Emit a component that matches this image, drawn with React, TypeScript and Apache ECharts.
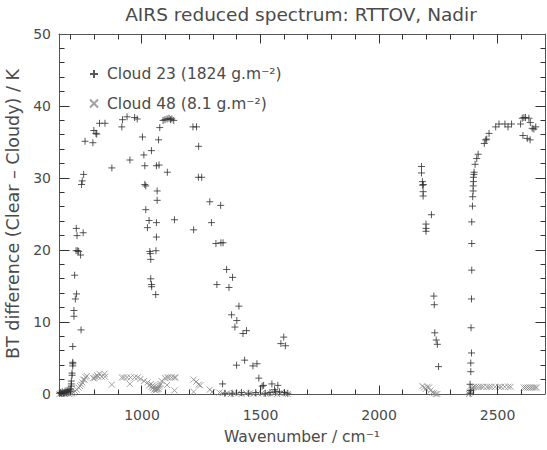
import React, { useEffect, useRef } from "react";
import * as echarts from "echarts";

const TITLE = "AIRS reduced spectrum: RTTOV, Nadir";
const X_NAME = "Wavenumber / cm\u207B\u00B9";
const Y_NAME = "BT difference (Clear \u2013 Cloudy) / K";
const NAME_23 = "Cloud 23 (1824 g.m\u207B\u00B2)";
const NAME_48 = "Cloud 48 (8.1 g.m\u207B\u00B2)";

const X_MIN = 650;
const X_MAX = 2700;
const X_MAJOR_TICKS = [1000, 1500, 2000, 2500];
const X_MINOR_TICKS = [700, 800, 900, 1100, 1200, 1300, 1400, 1600, 1700, 1800, 1900, 2100, 2200, 2300, 2400, 2600];
const Y_MIN = 0;
const Y_MAX = 50;
const Y_STEP = 10;
const Y_MAJOR_TICKS = [10, 20, 30, 40];
const Y_MINOR_TICKS = [2, 4, 6, 8, 12, 14, 16, 18, 22, 24, 26, 28, 32, 34, 36, 38, 42, 44, 46, 48];

// Cloud 23 (+), long-wave window region
const CLOUD23_LW: [number, number][] = [
  [652, 0.1], [656, 0.2], [660, 0.1], [664, 0.3], [668, 0.1], [672, 0.2], [676, 0.4], [680, 0.2],
  [684, 0.5], [688, 0.3], [692, 0.6], [697, 0.4], [699, 0.7], [702, 1.1], [702, 1.4], [702, 1.8],
  [705, 2.6], [705, 2.9], [708, 3.9], [708, 4.2], [708, 4.4], [708, 6.6], [713, 10.8], [713, 11.6],
  [716, 16.5], [719, 13.2], [723, 23.0], [724, 13.9], [726, 22.0], [722, 19.9], [729, 19.9], [733, 19.8],
  [741, 19.3], [743, 8.9], [752, 22.4], [745, 29.1], [748, 29.6], [754, 30.5], [760, 35.1], [793, 34.9],
  [797, 36.6], [806, 36.2], [809, 36.1], [821, 37.6], [844, 37.6], [873, 31.4], [915, 37.1], [918, 38.1],
  [937, 38.5], [969, 38.4], [980, 38.2], [949, 32.5], [1002, 35.7], [1008, 33.2], [1012, 31.7], [1012, 29.1],
  [1016, 28.9], [1040, 33.8], [1064, 28.2], [1061, 31.7], [1072, 31.8], [1070, 35.3], [1075, 37.0], [1089, 38.0],
  [1097, 38.1], [1106, 38.2], [1114, 38.3], [1120, 38.1], [1126, 38.2], [1134, 38.0], [1107, 30.8],
  [1016, 25.6], [1023, 23.1], [1030, 24.1], [1061, 23.8], [1064, 26.9], [1061, 21.8], [1033, 19.8], [1035, 19.5],
  [1037, 18.7], [1059, 19.9], [1037, 16.0], [1040, 15.2], [1041, 14.9], [1058, 13.8], [1137, 24.2],
];

// Cloud 23 (+), water-vapour band region
const CLOUD23_MW: [number, number][] = [
  [1215, 37.1], [1230, 37.1], [1239, 34.4], [1238, 30.1], [1252, 30.1], [1218, 22.8], [1286, 26.7], [1332, 26.2],
  [1293, 23.8], [1312, 20.9], [1333, 21.0], [1342, 21.0], [1357, 17.3], [1382, 16.2], [1316, 15.2], [1367, 14.8],
  [1409, 12.2], [1378, 11.0], [1400, 10.2], [1392, 9.3], [1441, 8.8], [1426, 8.4], [1433, 4.7], [1399, 4.0],
  [1468, 3.9], [1485, 4.2], [1493, 2.2], [1507, 1.1], [1513, 1.2], [1548, 1.4], [1573, 1.2], [1559, 0.6],
  [1563, 0.3], [1340, 1.4], [1598, 7.9], [1586, 7.0], [1605, 6.7], [1350, 0.1], [1380, 0.1], [1420, 0.2],
  [1450, 0.1], [1480, 0.2], [1520, 0.1], [1540, 0.2], [1580, 0.3], [1600, 0.2], [1615, 0.1],
];

// Cloud 23 (+), short-wave region
const CLOUD23_SW: [number, number][] = [
  [2179, 31.6], [2179, 30.7], [2183, 29.5], [2187, 29.1], [2183, 29.0], [2186, 28.1], [2186, 27.5], [2221, 24.9],
  [2198, 23.6], [2198, 23.0], [2198, 22.6], [2231, 13.6], [2233, 12.4], [2235, 8.5], [2241, 7.5], [2246, 6.9],
  [2251, 3.8], [2384, 0.1], [2385, 0.5], [2384, 1.35], [2387, 3.1], [2387, 4.3], [2390, 5.7], [2388, 9.2],
  [2390, 13.2], [2391, 17.2], [2391, 20.9], [2391, 23.9], [2394, 26.1], [2395, 27.4], [2397, 28.2], [2397, 28.9],
  [2398, 29.5], [2398, 30.1], [2400, 30.5], [2401, 30.8], [2405, 31.9], [2412, 32.7], [2418, 33.3], [2444, 34.8],
  [2450, 35.3], [2454, 35.4], [2464, 36.2], [2492, 37.1], [2506, 37.5], [2531, 37.5], [2559, 37.5], [2544, 37.1],
  [2597, 37.5], [2604, 38.3], [2611, 38.4], [2618, 38.4], [2632, 38.3], [2638, 37.7], [2646, 36.9], [2653, 36.8],
  [2661, 37.1], [2607, 35.9], [2625, 35.5], [2637, 35.3],
];

// Cloud 48 (x), long-wave window region
const CLOUD48_LW: [number, number][] = [
  [652, 0.0], [658, 0.1], [664, 0.0], [670, 0.1], [676, 0.0], [682, 0.1], [688, 0.1], [694, 0.0],
  [700, 0.1], [705, 0.1], [711, 0.2], [718, 0.4], [725, 0.6], [732, 0.9], [739, 1.1], [744, 1.3],
  [749, 1.6], [752, 2.0], [757, 2.0], [763, 2.3], [767, 2.5], [794, 2.2], [800, 2.2], [804, 2.4],
  [811, 2.6], [815, 2.4], [821, 2.8], [830, 2.4], [842, 2.8], [844, 2.4], [873, 1.3], [915, 2.3],
  [924, 2.3], [937, 2.3], [952, 2.3], [969, 2.3], [982, 2.3], [949, 1.4], [994, 2.1], [1009, 1.8],
  [1024, 1.6], [1038, 1.4], [1044, 1.2], [1050, 1.0], [1055, 0.8], [1061, 0.7], [1066, 0.8], [1072, 1.0],
  [1078, 1.4], [1083, 1.8], [1097, 2.2], [1106, 2.3], [1114, 2.3], [1125, 2.3], [1136, 2.3], [1142, 2.3],
  [1106, 1.25], [1137, 0.5], [1030, 1.2], [1045, 0.8], [1052, 0.6], [1058, 0.5], [1064, 0.6], [1070, 0.7],
  [1040, 1.0], [1075, 1.2],
];

// Cloud 48 (x), water-vapour band region
const CLOUD48_MW: [number, number][] = [
  [1218, 2.0], [1229, 1.7], [1239, 1.3], [1246, 1.2], [1218, 0.3], [1286, 0.6], [1297, 0.3], [1327, 0.2],
  [1340, 0.1], [1360, 0.1], [1375, 0.0], [1390, 0.1], [1405, 0.1], [1420, 0.0], [1440, 0.1], [1455, 0.1],
  [1470, 0.0], [1490, 0.1], [1505, 0.1], [1525, 0.0], [1540, 0.1], [1555, 0.1], [1570, 0.0], [1585, 0.1],
  [1600, 0.1], [1615, 0.0],
];

// Cloud 48 (x), short-wave region
const CLOUD48_SW: [number, number][] = [
  [2183, 1.1], [2190, 0.9], [2197, 0.7], [2204, 1.0], [2211, 0.9], [2218, 0.5], [2225, 0.2], [2232, 0.1],
  [2239, 0.0], [2246, 0.0], [2380, 0.0], [2383, 0.2], [2386, 0.4], [2389, 0.6], [2392, 0.8], [2396, 0.9],
  [2400, 1.0], [2410, 1.0], [2420, 1.0], [2430, 1.0], [2440, 1.0], [2455, 1.0], [2465, 1.0], [2475, 1.0],
  [2490, 1.0], [2505, 1.0], [2515, 1.0], [2530, 1.0], [2545, 1.0], [2555, 1.0], [2610, 0.9], [2618, 0.9],
  [2626, 0.9], [2634, 0.9], [2642, 0.9], [2650, 0.9], [2658, 0.9], [2665, 0.9],
];

const FONT = "'DejaVu Sans', 'Liberation Sans', sans-serif";
const TEXT_COLOR = "#4a4a4a";
const AXIS_COLOR = "#555555";
const TICK_COLOR = "#333333";
const PLUS_PATH = "path://M0,5L10,5M5,0L5,10";
const CROSS_PATH = "path://M0,0L10,10M10,0L0,10";

export default function App() {
  const ref = useRef<HTMLDivElement>(null);
  useEffect(() => {
    if (!ref.current) return;
    const chart = echarts.init(ref.current, undefined, { renderer: "svg" });
    const tickLabel = { color: TEXT_COLOR, fontFamily: FONT, fontSize: 14, formatter: (v: number) => String(v) };
    const nameText = { color: TEXT_COLOR, fontFamily: FONT, fontSize: 15.5 };
    const axisLine = { show: true, onZero: false, lineStyle: { color: AXIS_COLOR, width: 1 } };
    const baseX = {
      type: "value" as const,
      min: X_MIN,
      max: X_MAX,
      splitLine: { show: false },
      axisTick: { show: false },
      axisLine,
    };
    const baseY = {
      type: "value" as const,
      min: Y_MIN,
      max: Y_MAX,
      interval: Y_STEP,
      splitLine: { show: false },
      axisTick: { show: false },
      minorTick: { show: false },
      axisLine,
    };

    // Tick data: [x, y, length, orientation(0 = on x axes, 1 = on y axes)]
    const tickData: number[][] = [
      ...X_MAJOR_TICKS.map((v) => [v, Y_MIN, 9, 0]),
      ...X_MINOR_TICKS.map((v) => [v, Y_MIN, 5, 0]),
      ...Y_MAJOR_TICKS.map((v) => [X_MIN, v, 10, 1]),
      ...Y_MINOR_TICKS.map((v) => [X_MIN, v, 5, 1]),
    ];
    const crisp = (v: number) => Math.round(v - 0.5) + 0.5;
    const tickStyle = { stroke: TICK_COLOR, lineWidth: 1, fill: "none" };
    const renderTick = (_params: any, api: any) => {
      const len = api.value(2);
      const orient = api.value(3);
      const lo = api.coord([X_MIN, Y_MIN]);
      const hi = api.coord([X_MAX, Y_MAX]);
      const p = api.coord([api.value(0), api.value(1)]);
      if (orient === 0) {
        const x = crisp(p[0]);
        const yb = crisp(lo[1]);
        const yt = crisp(hi[1]);
        return {
          type: "group",
          children: [
            { type: "line", shape: { x1: x, y1: yb, x2: x, y2: yb - len }, style: tickStyle },
            { type: "line", shape: { x1: x, y1: yt, x2: x, y2: yt + len }, style: tickStyle },
          ],
        };
      }
      const y = crisp(p[1]);
      const xl = crisp(lo[0]);
      const xr = crisp(hi[0]);
      return {
        type: "group",
        children: [
          { type: "line", shape: { x1: xl, y1: y, x2: xl + len, y2: y }, style: tickStyle },
          { type: "line", shape: { x1: xr, y1: y, x2: xr - len, y2: y }, style: tickStyle },
        ],
      };
    };

    chart.setOption({
      animation: false,
      backgroundColor: "#fff",
      grid: { left: 59, right: 2, top: 34, bottom: 56, outerBoundsMode: "none" },
      graphic: [
        {
          type: "text",
          x: 301,
          y: 14,
          silent: true,
          style: {
            text: TITLE,
            fill: TEXT_COLOR,
            font: `18.5px ${FONT}`,
            align: "center",
            verticalAlign: "middle",
          },
        },
      ],
      legend: {
        orient: "vertical",
        left: 84,
        top: 61,
        itemGap: 13.5,
        itemWidth: 16,
        itemHeight: 8,
        textStyle: { ...nameText },
        data: [
          { name: NAME_23, icon: PLUS_PATH },
          { name: NAME_48, icon: CROSS_PATH },
        ],
      },
      xAxis: [
        {
          ...baseX,
          position: "bottom",
          name: X_NAME,
          nameLocation: "middle",
          nameGap: 35,
          nameTextStyle: { ...nameText },
          axisLabel: { ...tickLabel, customValues: X_MAJOR_TICKS, margin: 14 },
        },
        {
          ...baseX,
          position: "top",
          axisLabel: { show: false },
        },
      ],
      yAxis: [
        {
          ...baseY,
          position: "left",
          name: Y_NAME,
          nameLocation: "middle",
          nameGap: 32,
          nameRotate: 90,
          nameTextStyle: { ...nameText, fontSize: 17.5 },
          axisLabel: { ...tickLabel, margin: 8 },
        },
        {
          ...baseY,
          position: "right",
          axisLabel: { show: false },
        },
      ],
      series: [
        {
          name: "ticks",
          type: "custom",
          xAxisIndex: 0,
          yAxisIndex: 0,
          silent: true,
          clip: false,
          renderItem: renderTick,
          encode: { x: 0, y: 1 },
          data: tickData,
          z: 10,
          tooltip: { show: false },
        },
        {
          name: NAME_48,
          type: "scatter",
          xAxisIndex: 0,
          yAxisIndex: 0,
          symbol: CROSS_PATH,
          symbolSize: 6,
          itemStyle: { color: "transparent", borderColor: "#8a8a8a", borderWidth: 1 },
          data: [...CLOUD48_LW, ...CLOUD48_MW, ...CLOUD48_SW],
          z: 2,
        },
        {
          name: NAME_23,
          type: "scatter",
          xAxisIndex: 0,
          yAxisIndex: 0,
          symbol: PLUS_PATH,
          symbolSize: 7,
          itemStyle: { color: "transparent", borderColor: "#2e2e2e", borderWidth: 1 },
          data: [...CLOUD23_LW, ...CLOUD23_MW, ...CLOUD23_SW],
          z: 3,
        },
      ],
    });
    return () => chart.dispose();
  }, []);
  return (
    <div
      ref={ref}
      style={{ position: "fixed", left: 0, top: 0, width: 547, height: 450, background: "#fff" }}
    />
  );
}
